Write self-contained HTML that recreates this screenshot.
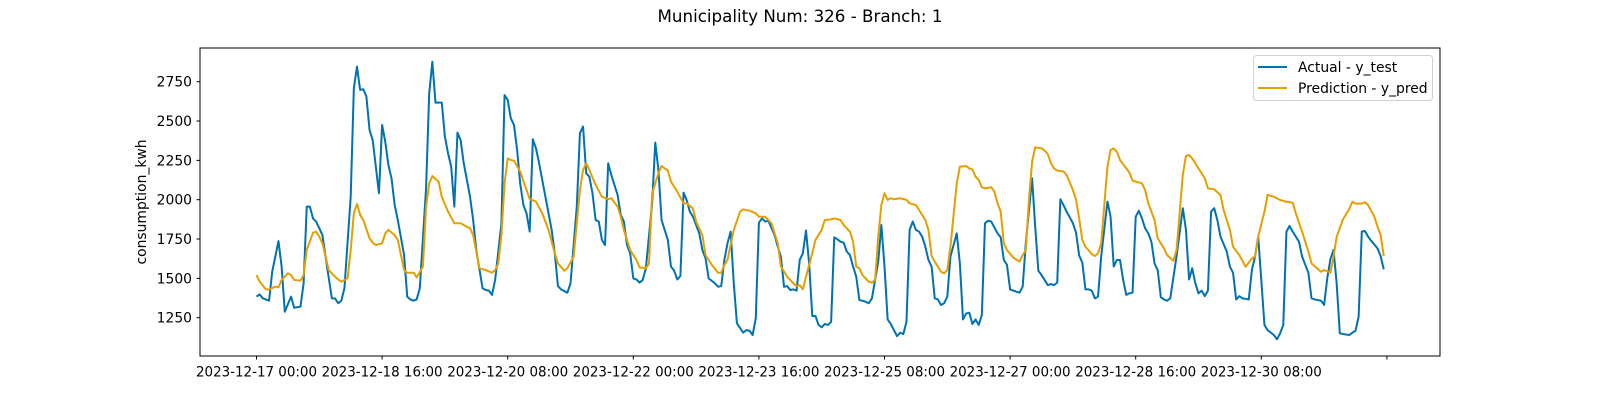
<!DOCTYPE html>
<html>
<head>
<meta charset="utf-8">
<style>
  html,body{margin:0;padding:0;background:#fff;}
  svg{display:block;}
  text{font-family:"DejaVu Sans","Liberation Sans",sans-serif;fill:#000;}
</style>
</head>
<body>
<svg id="chart" width="1600" height="400" viewBox="0 0 1600 400" xmlns="http://www.w3.org/2000/svg">
  <rect x="0" y="0" width="1600" height="400" fill="#fff"/>
  <text x="800" y="22" font-size="16.7" text-anchor="middle">Municipality Num: 326 - Branch: 1</text>
  <g id="yticks"></g>
  <g id="xticks"></g>
  <text x="0" y="0" font-size="13.9" text-anchor="middle" transform="translate(146,202) rotate(-90)">consumption_kwh</text>
  <g id="series"></g>
  <rect x="200" y="48" width="1240" height="308" fill="none" stroke="#000" stroke-width="1"/>
  <g>
    <rect x="1253.5" y="55.5" width="179" height="45" rx="3" fill="#fff" fill-opacity="0.8" stroke="#d0d0d0" stroke-width="1"/>
    <line x1="1258" y1="67" x2="1287" y2="67" stroke="#0072B2" stroke-width="2"/>
    <text x="1298" y="72" font-size="13.9">Actual - y_test</text>
    <line x1="1258" y1="88" x2="1287" y2="88" stroke="#E69F00" stroke-width="2"/>
    <text x="1298" y="93" font-size="13.9">Prediction - y_pred</text>
  </g>
</svg>
<script>
const yTickValues = [1250, 1500, 1750, 2000, 2250, 2500, 2750];
const xTickHours = [0, 40, 80, 120, 160, 200, 240, 280, 320, 360];
const xTickLabels = ["2023-12-17 00:00","2023-12-18 16:00","2023-12-20 08:00","2023-12-22 00:00","2023-12-23 16:00","2023-12-25 08:00","2023-12-27 00:00","2023-12-28 16:00","2023-12-30 08:00",""];

const actualHours = [0,1,2,4,5,7,8,9,11,12,14,15,16,17,18,19,21,22,24,25,26,27,28,30,31,32,33,34,35,36,37,38,39,40,41,42,43,44,45,47,48,49,50,51,52,54,55,56,57,59,60,61,62,63,64,65,66,68,69,70,72,73,74,75,76,78,79,80,81,82,83,84,85,86,87,88,89,90,92,94,95,96,97,99,100,102,103,104,105,106,107,108,109,110,111,112,113,115,116,117,118,119,120,121,122,123,124,126,127,128,129,131,132,133,134,135,136,137,138,139,141,142,143,144,146,147,148,149,150,151,152,153,155,156,157,158,159,160,161,162,163,165,166,167,168,169,170,171,172,173,174,175,176,177,178,179,180,181,182,183,184,185,186,187,188,189,190,191,192,193,194,195,196,198,199,200,201,202,203,204,205,206,207,208,209,210,211,212,213,214,215,216,217,218,219,220,221,223,224,225,226,227,228,229,230,231,232,233,234,236,237,238,239,240,242,243,244,245,247,248,249,250,251,252,253,254,255,256,257,258,259,260,261,262,263,264,265,266,267,268,269,271,272,273,274,275,276,277,278,279,280,281,282,283,284,285,286,287,288,289,290,291,293,295,296,297,298,299,300,301,302,303,304,305,306,307,309,310,311,312,313,314,316,317,318,319,320,321,322,324,325,326,327,328,329,330,332,333,335,336,337,338,339,340,341,342,343,344,345,346,348,349,350,351,352,353,354,355,357,358,359];
const actualValues = [1384,1398,1373,1358,1542,1737,1575,1288,1384,1313,1320,1468,1956,1956,1881,1861,1775,1637,1373,1373,1342,1358,1437,2019,2708,2846,2698,2702,2656,2443,2379,2210,2041,2475,2369,2221,2136,1966,1871,1648,1384,1366,1358,1366,1437,2072,2676,2877,2617,2617,2401,2295,2210,1956,2426,2379,2232,2019,1871,1680,1437,1426,1422,1395,1490,1850,2665,2634,2517,2475,2316,2099,1966,1913,1797,2384,2327,2232,2019,1808,1659,1451,1430,1409,1468,1956,2423,2465,2168,2146,2041,1871,1861,1744,1712,2232,2157,2030,1903,1861,1712,1659,1500,1493,1473,1490,1564,1977,2363,2189,1871,1744,1575,1549,1493,1515,2045,1998,1924,1892,1786,1680,1628,1500,1468,1447,1451,1617,1723,1797,1468,1214,1155,1171,1167,1140,1246,1854,1881,1861,1866,1775,1702,1638,1447,1451,1426,1430,1422,1617,1659,1805,1595,1261,1261,1204,1189,1210,1204,1224,1761,1748,1733,1727,1670,1648,1575,1511,1362,1358,1351,1342,1373,1606,1839,1575,1239,1210,1171,1133,1155,1146,1224,1808,1861,1808,1797,1765,1702,1617,1575,1373,1366,1331,1342,1384,1638,1786,1595,1239,1277,1282,1210,1239,1204,1267,1850,1866,1861,1786,1761,1617,1586,1430,1415,1409,1447,1723,2136,1828,1549,1521,1490,1457,1464,1457,1473,2003,1966,1924,1888,1850,1790,1645,1600,1430,1430,1422,1373,1384,1638,1988,1892,1575,1617,1617,1490,1395,1405,1409,1892,1930,1881,1818,1786,1733,1595,1553,1380,1366,1358,1373,1638,1946,1808,1493,1564,1468,1405,1422,1387,1422,1924,1946,1871,1765,1670,1575,1535,1366,1387,1373,1366,1553,1638,1765,1490,1204,1171,1140,1113,1151,1204,1797,1833,1797,1733,1638,1535,1373,1366,1362,1358,1331,1500,1621,1681,1468,1151,1146,1140,1155,1167,1257,1797,1801,1765,1739,1691,1642,1557];

const predHours = [0,1,3,4,6,7,8,10,11,12,14,15,16,18,19,20,21,23,25,26,27,29,30,31,32,33,34,36,37,38,40,41,42,44,45,47,48,50,51,53,54,55,56,58,59,61,63,65,67,68,69,71,73,75,76,77,78,79,80,81,82,84,86,87,89,91,93,95,96,98,99,101,103,104,105,106,108,110,112,113,115,116,117,119,121,122,124,125,126,128,129,131,132,134,136,137,139,140,142,143,145,147,148,149,150,152,154,155,157,159,160,162,164,166,167,169,171,172,173,174,175,177,178,180,181,183,184,186,187,189,190,191,192,193,195,196,197,198,199,200,201,202,203,205,207,208,210,211,213,214,215,216,218,219,220,221,223,224,226,227,228,229,230,231,232,234,235,236,237,238,239,241,243,244,245,246,247,248,250,251,252,253,254,255,257,258,260,261,262,263,264,266,267,268,269,271,272,273,274,275,277,278,279,280,282,283,284,286,287,289,290,292,293,295,296,297,298,300,302,303,305,307,308,310,311,313,315,317,318,319,321,322,324,326,328,330,331,333,335,336,339,340,342,343,344,346,348,349,350,352,353,354,356,357,358,359];
const predValues = [1521,1479,1430,1430,1447,1443,1490,1532,1521,1490,1486,1521,1680,1790,1797,1765,1723,1553,1511,1493,1479,1500,1680,1913,1973,1903,1871,1755,1727,1712,1723,1786,1808,1775,1744,1553,1536,1536,1506,1575,1956,2104,2150,2115,2019,1924,1850,1850,1828,1818,1775,1564,1553,1536,1553,1595,1775,2104,2263,2252,2248,2178,2062,2004,1988,1913,1808,1659,1595,1549,1564,1638,2062,2189,2232,2189,2094,2019,2003,2009,1956,1892,1808,1680,1617,1570,1564,1595,2041,2168,2214,2185,2115,2051,1977,1977,1945,1861,1775,1648,1586,1536,1536,1586,1617,1808,1924,1939,1930,1913,1892,1892,1850,1723,1575,1511,1468,1451,1457,1430,1511,1659,1744,1808,1871,1875,1881,1871,1839,1797,1733,1575,1564,1521,1479,1473,1490,1765,1966,2041,1999,2009,2003,2009,1999,1977,1966,1935,1871,1808,1642,1606,1542,1532,1553,1702,2104,2210,2214,2199,2193,2146,2126,2079,2072,2079,2051,1977,1924,1723,1680,1633,1606,1648,1680,1999,2242,2333,2327,2312,2290,2232,2199,2185,2179,2157,2062,1999,1880,1744,1701,1655,1642,1659,1722,2210,2316,2326,2305,2252,2199,2172,2121,2115,2104,2061,1977,1871,1754,1691,1648,1612,1680,2157,2278,2284,2263,2199,2136,2072,2066,2030,1934,1807,1701,1648,1574,1627,1638,1765,1924,2030,2019,1998,1987,1981,1913,1797,1669,1595,1542,1553,1536,1638,1765,1875,1940,1987,1975,1975,1984,1966,1892,1829,1776,1642];

const X0 = 256.5, PX_PER_HOUR = 3.14;
const Y_REF = 2750, Y_REF_PX = 81.7, PX_PER_UNIT = 236 / 1500;
function xScale(h){ return X0 + h * PX_PER_HOUR; }
function yScale(v){ return Y_REF_PX + (Y_REF - v) * PX_PER_UNIT; }
const NS = "http://www.w3.org/2000/svg";

const yG = document.getElementById('yticks');
yTickValues.forEach(function(v){
  const y = yScale(v);
  const t = document.createElementNS(NS, 'line');
  t.setAttribute('x1', 196.5); t.setAttribute('x2', 200);
  t.setAttribute('y1', y); t.setAttribute('y2', y);
  t.setAttribute('stroke', '#000'); t.setAttribute('stroke-width', '1');
  
  
  yG.appendChild(t);
  const l = document.createElementNS(NS, 'text');
  l.setAttribute('x', 192); l.setAttribute('y', y + 5);
  l.setAttribute('font-size', '13.9'); l.setAttribute('text-anchor', 'end');
  l.textContent = String(v);
  
  
  yG.appendChild(l);
});

const xG = document.getElementById('xticks');
xTickHours.forEach(function(h, i){
  const x = xScale(h);
  const t = document.createElementNS(NS, 'line');
  t.setAttribute('x1', x); t.setAttribute('x2', x);
  t.setAttribute('y1', 356); t.setAttribute('y2', 359.5);
  t.setAttribute('stroke', '#000'); t.setAttribute('stroke-width', '1');
  
  
  xG.appendChild(t);
  if (xTickLabels[i]) {
    const l = document.createElementNS(NS, 'text');
    l.setAttribute('x', x); l.setAttribute('y', 376.5);
    l.setAttribute('font-size', '13.9'); l.setAttribute('text-anchor', 'middle');
    l.setAttribute('textLength', '121'); l.setAttribute('lengthAdjust', 'spacingAndGlyphs');
    l.textContent = xTickLabels[i];
    
    
    xG.appendChild(l);
  }
});

function pathFor(hours, values){
  return hours.map(function(h, i){ return (i ? 'L' : 'M') + xScale(h).toFixed(2) + ',' + yScale(values[i]).toFixed(2); }).join('');
}
const sG = document.getElementById('series');
const pa = document.createElementNS(NS, 'path');
pa.setAttribute('d', pathFor(actualHours, actualValues));
pa.setAttribute('fill', 'none'); pa.setAttribute('stroke', '#0072B2');
pa.setAttribute('stroke-width', '2'); pa.setAttribute('stroke-linejoin', 'round');


sG.appendChild(pa);
const pp = document.createElementNS(NS, 'path');
pp.setAttribute('d', pathFor(predHours, predValues));
pp.setAttribute('fill', 'none'); pp.setAttribute('stroke', '#E69F00');
pp.setAttribute('stroke-width', '2'); pp.setAttribute('stroke-linejoin', 'round');


sG.appendChild(pp);
</script>
</body>
</html>
